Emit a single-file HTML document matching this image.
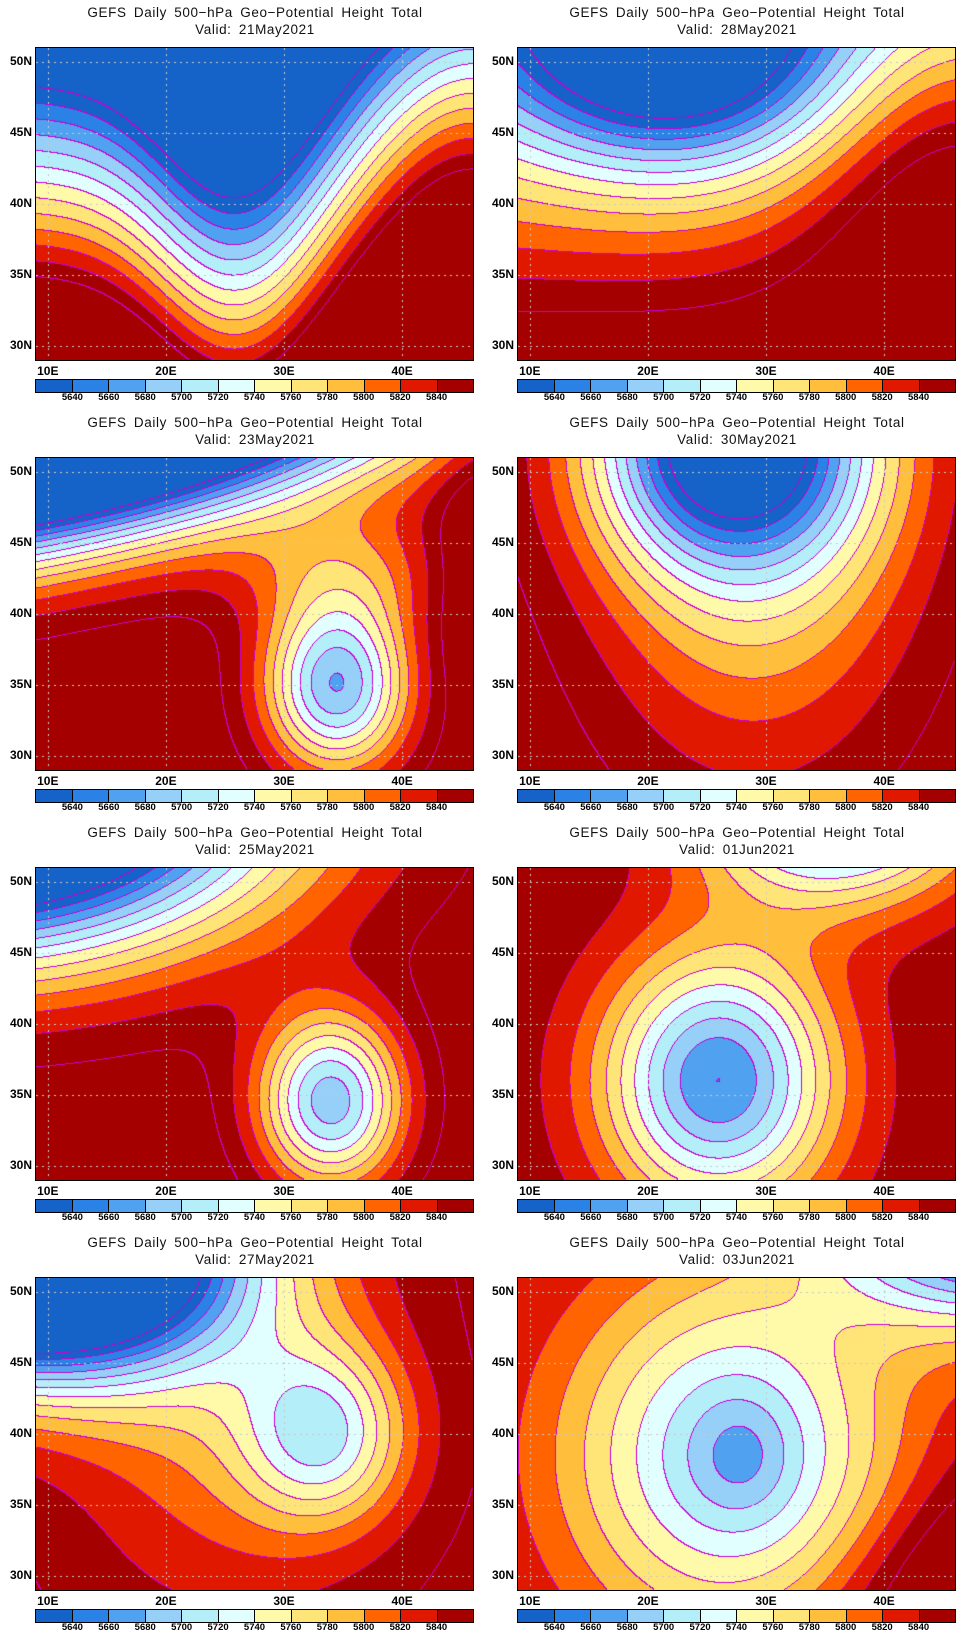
<!DOCTYPE html>
<html><head><meta charset="utf-8">
<style>
body{margin:0;background:#fff;width:964px;height:1640px;position:relative;overflow:hidden;font-family:"Liberation Sans",sans-serif}
.panel{position:absolute;width:482px;height:410px}
.t{position:absolute;left:0;width:510px;text-align:center;font-size:13.5px;letter-spacing:0.6px;word-spacing:3px;color:#111}
canvas{position:absolute;left:36px;top:48px;border:1px solid #000;box-sizing:content-box;margin:-1px}
.yl{position:absolute;left:4px;width:28px;text-align:right;font-size:12px;font-weight:bold}
.xl{position:absolute;width:40px;text-align:center;font-size:12px;font-weight:bold;top:364px}
.cb{position:absolute;left:36px;top:380px;width:437px;height:12px;display:flex;border:1px solid #000;margin:-1px}
.cb div{flex:1;border-right:1px solid #000}
.cb div:last-child{border-right:none}
.cl{position:absolute;top:392px;width:30px;text-align:center;font-size:9.5px;font-weight:bold}
</style></head><body>
<script>
const panelDates=["21May2021","28May2021","23May2021","30May2021","25May2021","01Jun2021","27May2021","03Jun2021"];
const panelBase=[5950,5880,5880,5880,5880,5860,5870,5850];
const panelGrad=[18,8,0,0,0,0,0,0];
const anomLon=[[26,46],[22,46],[10,34.5,36,47],[27,29],[2,34],[26,36],[8,33.5,25],[28,27,50,46]];
const anomLat=[[40,40],[51,42],[53.75,35,43,45],[52,50],[57,34.5],[36,56],[53,40,40],[38.5,38.5,55,30]];
const anomAmp=[[-145,135],[-190,100],[-553,-200,-50,40],[-200,-130],[-500,-190],[-200,-220],[-500,-120,-60],[-30,-150,-250,60]];
const anomSx=[[6,7],[10,9],[24,4.5,7,3],[8,10],[18,4.5],[7,8],[12,5,10],[3,10,10,8]];
const anomSy=[[30,30],[6,10],[6,4.5,3,6],[6,14],[8,4.5],[6.5,5],[6,4.5,10],[3,9,5,5]];
const anomTilt=[[0,0],[0,0],[0.16,0,0,0],[0,0],[0,0],[0,0],[0,0,0],[0,0,0,0.4]];
const levelColors=["#1562c8","#2a82e6","#50a2f0","#96d0f8","#b4eef8","#e2ffff","#fffaaa","#ffe478","#ffbe3c","#ff6400","#e11800","#a50000"];
const levelLabels=["5640","5660","5680","5700","5720","5740","5760","5780","5800","5820","5840"];
const latTicks=["50N","45N","40N","35N","30N"];
const lonTicks=["10E","20E","30E","40E"];
</script>
<script>
const W=437,H=312,LON0=9,LON1=46,LAT0=29,LAT1=51;
const xOf=lon=>(lon-LON0)/(LON1-LON0)*W;
const yOf=lat=>(LAT1-lat)/(LAT1-LAT0)*H;
function rgb(h){return [parseInt(h.substr(1,2),16),parseInt(h.substr(3,2),16),parseInt(h.substr(5,2),16)];}
const cols=levelColors.map(rgb);
function field(p,lon,lat){
  let z=panelBase[p]-panelGrad[p]*(lat-30);
  for(let i=0;i<anomLon[p].length;i++){
    const dx=lon-anomLon[p][i];
    const dy=lat-(anomLat[p][i]+anomTilt[p][i]*dx);
    z+=anomAmp[p][i]*Math.exp(-(dx*dx/(2*anomSx[p][i]**2)+dy*dy/(2*anomSy[p][i]**2)));
  }
  return z;
}
for(let p=0;p<8;p++){
  const col=p%2,row=Math.floor(p/2);
  const d=document.createElement('div');
  d.className='panel';d.style.left=(col*482)+'px';d.style.top=(row*410)+'px';
  
  
  document.body.appendChild(d);
  const t1=document.createElement('div');t1.className='t';t1.style.top='5px';
  t1.textContent='GEFS Daily 500\u2212hPa Geo\u2212Potential Height Total';
  
  
  d.appendChild(t1);
  const t2=document.createElement('div');t2.className='t';t2.style.top='22px';
  t2.textContent='Valid: '+panelDates[p];
  
  
  d.appendChild(t2);
  const c=document.createElement('canvas');c.width=W;c.height=H;
  
  
  d.appendChild(c);
  const ctx=c.getContext('2d');
  const img=ctx.createImageData(W,H);
  const lev=new Int16Array(W*H);
  for(let y=0;y<H;y++){const lat=LAT1-(y+0.5)/H*(LAT1-LAT0);
    for(let x=0;x<W;x++){const lon=LON0+(x+0.5)/W*(LON1-LON0);
      lev[y*W+x]=Math.floor((field(p,lon,lat)-5640)/20)+1;}}
  const okLine=(a,b)=>{const m=Math.max(a,b);return m>=0&&m<=12;};
  for(let y=0;y<H;y++)for(let x=0;x<W;x++){
    const k=y*W+x,l=lev[k];
    let cc=cols[Math.max(0,Math.min(11,l))];
    const edge=(x<W-1&&lev[k+1]!==l&&okLine(l,lev[k+1]))||(y<H-1&&lev[k+W]!==l&&okLine(l,lev[k+W]));
    if(edge)cc=[200,0,210];
    img.data[k*4]=cc[0];img.data[k*4+1]=cc[1];img.data[k*4+2]=cc[2];img.data[k*4+3]=255;}
  ctx.putImageData(img,0,0);
  ctx.strokeStyle='#c8c8c8';ctx.lineWidth=1;ctx.setLineDash([2,4]);
  [10,20,30,40].forEach(lo=>{const x=Math.round(xOf(lo))+0.5;ctx.beginPath();ctx.moveTo(x,0);ctx.lineTo(x,H);ctx.stroke();});
  [30,35,40,45,50].forEach(la=>{const y=Math.round(yOf(la))+0.5;ctx.beginPath();ctx.moveTo(0,y);ctx.lineTo(W,y);ctx.stroke();});
  latTicks.forEach(s=>{const la=parseInt(s);const e=document.createElement('div');e.className='yl';
    e.style.top=(48+yOf(la)-8)+'px';e.textContent=s;
    
    
    d.appendChild(e);});
  lonTicks.forEach(s=>{const lo=parseInt(s);const e=document.createElement('div');e.className='xl';
    e.style.left=(36+xOf(lo)-20)+'px';e.textContent=s;
    
    
    d.appendChild(e);});
  const cb=document.createElement('div');cb.className='cb';
  
  
  levelColors.forEach(h=>{const b=document.createElement('div');b.style.background=h;
    
    
    cb.appendChild(b);});
  d.appendChild(cb);
  levelLabels.forEach((s,i)=>{const e=document.createElement('div');e.className='cl';
    e.style.left=(36+(i+1)*W/12-15)+'px';e.textContent=s;
    
    
    d.appendChild(e);});
}
</script>
</body></html>
